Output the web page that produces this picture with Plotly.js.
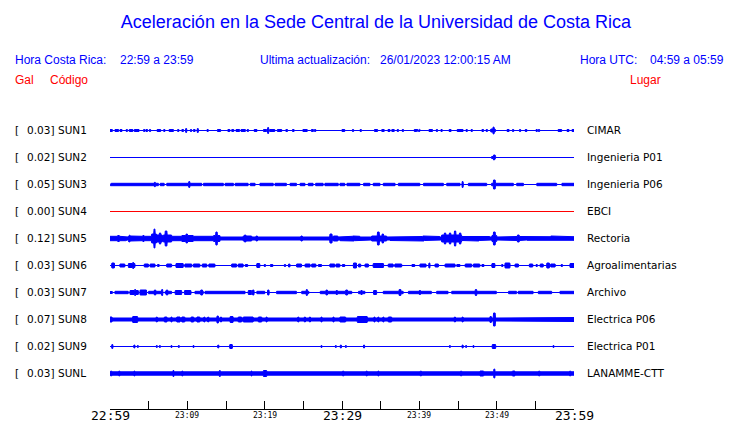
<!DOCTYPE html>
<html><head><meta charset="utf-8">
<script src="https://cdn.plot.ly/plotly-3.0.1.min.js"></script>
<style>html,body{margin:0;padding:0;background:#fff}</style>
</head><body><div id="chart" style="width:740px;height:423px"></div>
<script>
// ---------- DATA ----------
const stationCodes = ['SUN1','SUN2','SUN3','SUN4','SUN5','SUN6','SUN7','SUN8','SUN9','SUNL'];
const peakGal = ['0.03','0.02','0.05','0.00','0.12','0.03','0.03','0.07','0.02','0.03'];
const places = ['CIMAR','Ingenieria P01','Ingenieria P06','EBCI','Rectoria','Agroalimentarias','Archivo','Electrica P06','Electrica P01','LANAMME-CTT'];
// background noise half-amplitude of each record (trace units)
const baseAmp = [0, 0, 0, 0, 1.5, 0, 0, 1.5, 0, 1.7];
const tickMinutes = [0,5,10,15,20,25,30,35,40,45,50,55,60];
const tickLabels = ['22:59','','23:09','','23:19','','23:29','','23:39','','23:49','','23:59'];
const majorTicks = ['22:59','23:29','23:59'];
// bursts per record: [minute after 22:59, duration (min), half-amplitude]
const sun1Events = [[0.13,0.4,1],[0.87,0.5,1],[1.42,0.3,1],[2.16,0.2,1],[2.72,0.5,1],[3.45,0.6,1],[4.44,0.2,1],[4.75,0.2,1],[5.17,0.2,1],[6.34,0.5,1],[7.02,0.2,1],[7.93,0.6,1],[8.83,0.2,1],[9.4,0.2,1],[9.83,0.15,2],[10.47,0.2,1],[10.9,0.2,1],[11.34,0.15,2],[12.63,0.2,1],[14.0,0.2,1],[14.22,0.2,1],[15.39,0.3,1],[15.87,0.3,1],[16.51,0.5,1],[17.24,0.6,1],[17.81,0.2,1],[18.84,0.4,1],[19.95,0.2,1],[20.17,0.2,1],[20.47,0.15,3],[20.99,0.7,1],[21.94,0.6,1],[22.85,0.2,1],[23.7,0.2,1],[25.22,0.6,1],[26.16,0.3,1],[26.51,0.2,1],[28.23,0.15,0.7],[30.17,0.4,1],[31.42,0.2,1],[32.42,0.2,1],[34.4,0.4,1],[35.3,0.3,1],[36.08,0.3,1],[36.6,0.3,1],[37.24,0.2,1],[37.89,0.2,1],[39.57,0.5,1],[39.96,0.2,1],[41.38,0.3,1],[41.6,0.2,1],[42.29,0.2,1],[42.89,0.2,1],[43.97,0.3,1],[45.26,0.8,1],[46.13,0.2,1],[46.77,0.2,1],[48.2,0.2,1],[48.71,0.2,1],[49.53,0.6,1.5],[49.6,0.15,3.5],[51.47,0.3,1],[52.11,0.2,1],[53.02,0.2,1],[53.8,0.2,1],[55.18,0.2,1],[55.48,0.2,1],[58.19,0.5,1],[59.23,0.3,1],[59.87,0.3,1]];
const sun2Events = [[2.72,0.15,0.7],[49.6,0.5,1],[49.7,0.2,2.5]];
const sun3Events = [[3.13,6.25,1.2],[5.82,0.15,2.2],[6.75,0.56,1.2],[9.59,4.53,1.2],[10.26,0.15,3],[13.36,2.59,1.2],[15.41,1.08,1.2],[17.03,1.72,1.2],[18.43,0.65,1.2],[20.26,1.72,1.2],[22.09,1.5,1.2],[23.71,0.86,1.2],[24.89,0.65,1.2],[25.97,0.65,1.2],[27.09,1.0,1.2],[28.66,1.72,1.2],[30.06,0.65,1.2],[31.47,1.72,1.2],[33.19,0.86,1.2],[34.48,0.86,1.2],[36.1,1.5,1.2],[38.69,2.8,1.2],[41.81,2.59,1.2],[44.4,1.72,1.2],[45.6,0.15,3],[47.52,2.37,1.2],[49.7,0.2,4.5],[50.75,2.8,1.2],[53.02,0.86,1.2],[56.47,2.59,1.2],[59.27,1.72,1.2]];
const sun4Events = [];
const sun5Events = [[1.08,2.16,2.2],[1.1,0.2,3],[2.91,1.08,2.5],[2.5,0.15,3.5],[4.42,1.94,2.2],[4.31,0.2,3],[4.96,0.2,2.5],[5.71,0.65,4.5],[5.73,0.15,9.5],[6.4,0.73,3.5],[6.47,0.2,5.5],[7.44,1.08,3.5],[7.24,0.25,7.5],[8.62,1.3,2.2],[10.02,1.5,3],[9.91,0.2,4.5],[12.18,2.8,2.2],[13.79,0.86,3],[13.79,0.2,6.5],[15.2,0.3,2.2],[16.16,0.3,2.2],[17.78,1.08,2.5],[17.46,0.2,3.5],[18.97,0.2,2.5],[20.37,1.0,2.2],[23.06,0.86,2.2],[24.78,0.2,2.5],[26.51,2.6,2.2],[28.58,0.3,4.5],[29.18,0.6,2.5],[31.03,2.6,2.2],[31.47,0.2,2.5],[34.81,1.94,2.5],[34.7,0.2,6.5],[35.26,0.2,4.5],[39.44,6.5,2],[40.52,0.2,2.5],[44.18,2.6,3.5],[43.32,0.2,5.5],[43.97,0.2,5.5],[44.61,0.2,7.5],[45.26,0.2,5.5],[47.3,3.66,2],[47.63,0.2,2.5],[49.68,0.65,3],[49.7,0.2,6.5],[51.72,2.6,2],[52.8,0.2,3.5],[57.0,6.2,1.8],[57.1,0.2,2.5]];
const sun6Events = [[0.39,0.34,2.5],[1.62,0.65,1.5],[2.8,0.86,2],[3.02,0.15,3],[4.7,0.52,1.5],[5.5,0.65,1.5],[6.25,0.2,1],[7.65,0.65,1.5],[9.01,0.95,2],[8.84,0.2,2.5],[10.13,0.86,1.5],[11.2,0.86,1.5],[12.22,0.56,1.5],[13.19,0.78,1.5],[16.06,0.65,1.5],[16.92,0.65,1.5],[17.63,0.34,1],[19.18,0.43,2],[20.04,0.2,1],[20.9,0.3,1],[22.63,0.2,1],[23.19,0.2,1.5],[24.46,0.65,1.5],[25.54,0.65,1.5],[26.34,0.52,1.5],[27.16,0.43,1],[28.77,0.65,1.5],[29.48,0.52,1.5],[30.2,0.34,1],[31.68,0.43,2.5],[32.26,0.3,1.5],[33.19,0.43,1.5],[34.7,1.3,2],[34.75,0.2,2.5],[36.31,0.65,1.5],[37.28,0.86,1.5],[39.22,0.43,1],[40.47,0.78,1.5],[41.29,0.15,2.5],[42.24,0.43,1.5],[43.97,1.3,1.5],[45.04,0.43,1],[46.34,0.86,1.5],[47.41,0.86,1.5],[48.21,0.3,1],[49.57,0.43,2],[50.73,0.2,1],[51.4,0.65,2.5],[52.59,0.43,1.5],[54.44,0.43,1.5],[55.17,0.2,1],[55.82,0.43,1.5],[56.64,0.34,2.5],[57.28,0.56,1.5],[58.41,0.2,1],[59.81,0.65,2]];
const sun7Events = [[0.15,0.3,1],[1.51,1.72,1.2],[3.13,1.08,2],[3.23,0.15,3],[4.31,0.86,2.5],[4.09,0.15,3],[5.82,1.72,1.2],[5.82,0.2,2.5],[6.77,0.15,3],[7.54,0.86,1.2],[7.37,0.2,2.5],[8.84,0.86,2],[10.04,0.86,2],[11.53,1.08,1.2],[11.85,0.2,2.5],[14.87,5.17,1.2],[18.1,0.43,2],[18.53,0.2,2.5],[19.5,1.08,1.2],[20.47,0.2,2.5],[22.84,2.59,1.2],[25.26,0.95,1.2],[25.43,0.15,3],[28.77,3.23,1.2],[28.02,0.2,2.5],[29.31,0.2,2],[30.5,1.5,1.2],[30.6,0.2,2.5],[32.54,0.86,1.2],[32.54,0.2,2],[34.27,0.43,2],[34.27,0.15,2.5],[36.64,2.59,1.2],[37.5,0.2,3],[40.09,3.0,1.2],[40.09,0.2,2],[42.99,1.5,1.2],[47.09,5.8,1.2],[47.33,0.2,3],[52.05,1.08,1.2],[53.77,1.94,1.2],[56.25,1.72,1.2],[59.16,1.94,1.2]];
const sun8Events = [[0.11,0.3,2.5],[1.94,0.15,2],[3.23,0.65,3],[6.03,0.15,2.5],[7.2,0.3,2.5],[7.97,0.15,2.5],[8.84,0.43,2.5],[9.48,0.43,2.5],[10.65,0.3,2.5],[11.42,0.43,2.5],[12.2,0.15,2.5],[12.72,0.15,2.5],[13.15,0.15,2],[13.92,0.2,3.5],[14.35,0.15,2.5],[15.73,0.43,3],[16.81,0.43,2.5],[17.89,1.3,2.5],[19.4,0.43,2.5],[20.26,0.15,2.5],[21.98,0.15,2],[23.49,0.15,2],[24.35,0.15,2.5],[25.22,0.15,2.5],[25.86,0.15,2.5],[26.51,0.15,2],[27.37,0.15,2.5],[28.02,0.15,2],[28.88,0.15,2.5],[29.96,0.43,2.5],[30.17,0.6,2.5],[32.63,1.3,3],[34.18,0.15,2.5],[34.7,0.15,2.5],[35.34,0.15,2.5],[36.21,0.43,2.5],[40.09,0.15,2],[41.81,0.15,2],[42.67,0.15,2],[43.97,0.15,2],[44.61,0.15,2.5],[45.6,0.15,2.5],[49.22,0.2,3],[49.7,0.2,6.5],[55.06,10.1,2]];
const sun9Events = [[0.3,0.15,2],[3.15,0.15,1.5],[3.58,0.15,1],[6.03,0.15,1],[6.47,0.15,1],[7.97,0.15,1],[8.92,0.15,1],[10.78,0.15,1],[14.01,0.15,1.5],[15.65,0.3,2],[27.37,0.15,1],[29.22,0.15,1],[29.87,0.15,1.5],[30.52,0.15,1],[32.84,0.15,1.5],[43.97,0.15,1],[45.6,0.15,1.5],[46.03,0.15,1],[46.98,0.15,1],[49.66,0.43,2],[57.33,0.15,1]];
const sunLEvents = [[0.13,0.15,2.5],[1.21,0.15,2.5],[2.24,0.3,2],[3.15,0.15,2.5],[3.88,0.15,2],[8.19,0.15,3],[9.35,0.15,2.5],[14.22,0.15,3],[18.32,0.15,2.5],[20.04,0.43,3],[25.78,0.15,2],[28.66,0.15,2],[30.17,0.15,2.5],[33.19,0.15,2.5],[34.7,0.15,2.5],[36.12,0.15,2],[36.98,0.15,2],[40.22,0.15,2.5],[42.46,0.15,2],[45.39,0.15,2.5],[48.06,0.5,2.5],[49.7,0.15,4.5],[52.2,0.3,2.5],[55.09,0.15,2],[55.52,0.15,2.5],[59.48,0.15,2.5]];

const allEvents = [sun1Events,sun2Events,sun3Events,sun4Events,sun5Events,sun6Events,sun7Events,sun8Events,sun9Events,sunLEvents];

// ---------- LAYOUT HELPERS (pixel geometry of the figure) ----------
const W = 740, H = 423;
const PL = 110, PR = 574, PT = 118, PB = 409;
const ROW0 = 130.5, ROWSTEP = 27;
const BLUE = '#0000ff', RED = '#ff0000';
function rowY(i){ return ROW0 + ROWSTEP*i; }
function px2x(px){ return (px-PL)/(PR-PL); }
function py2y(py){ return (PB-py)/(PB-PT); }

const STEP = 0.05;
function envelope(base, events){
  const n = Math.round(60/STEP)+1, xs=[], amps=[];
  for(let i=0;i<n;i++){
    const t = i*STEP; let a = base;
    for(const ev of events){
      if(Math.abs(t-ev[0]) <= Math.max(ev[1],0.15)/2 + 1e-9) a = Math.max(a, ev[2]);
    }
    xs.push(t); amps.push(a);
  }
  return {xs, amps};
}

const traces = [];
stationCodes.forEach((code,i)=>{
  const c = rowY(i);
  const env = envelope(baseAmp[i], allEvents[i]);
  const x = env.xs.concat(env.xs.slice().reverse());
  const up = env.amps.map(a=>c-a);
  const lo = env.amps.map(a=>c+a).reverse();
  const col = code==='SUN4' ? RED : BLUE;
  traces.push({x, y: up.concat(lo), type:'scatter', mode:'lines', fill:'toself',
    fillcolor: col, line:{color: col, width:1}, hoverinfo:'skip', showlegend:false, name: code});
});

const annotations = [];
function ann(text, px, py, anchor, font){
  annotations.push({xref:'paper', yref:'paper', x:px2x(px), y:py2y(py), xanchor:anchor, yanchor:'middle',
    text, showarrow:false, borderpad:0, font});
}
const hdr = {family:'Liberation Sans, Arial, sans-serif', size:12, color:BLUE};
const hdrRed = {family:'Liberation Sans, Arial, sans-serif', size:12, color:RED};
ann('Hora Costa Rica:', 14, 60, 'left', hdr);
ann('22:59 a 23:59', 119, 60, 'left', hdr);
ann('Ultima actualización:', 259, 60, 'left', hdr);
ann('26/01/2023 12:00:15 AM', 379, 60, 'left', hdr);
ann('Hora UTC:', 579, 60, 'left', hdr);
ann('04:59 a 05:59', 649, 60, 'left', hdr);
ann('Gal', 14, 80, 'left', hdrRed);
ann('Código', 49, 80, 'left', hdrRed);
ann('Lugar', 629, 80, 'left', hdrRed);

const lab = {family:'DejaVu Sans, sans-serif', size:10.5, color:'#000000'};
stationCodes.forEach((code,i)=>{
  const c = rowY(i) - 1;
  ann('[', 14, c, 'left', lab);
  ann(peakGal[i]+']', 55, c, 'right', lab);
  ann(code, 57, c, 'left', lab);
  ann(places[i], 586, c, 'left', lab);
});
tickMinutes.forEach((m,i)=>{
  if(!tickLabels[i]) return;
  const major = majorTicks.includes(tickLabels[i]);
  annotations.push({xref:'x', yref:'paper', x:m, y:py2y(415.5), xanchor:'center', yanchor:'middle',
    text: tickLabels[i], showarrow:false, borderpad:0,
    font:{family:'DejaVu Sans Mono, monospace', size: major?13:8, color:'#000000'}});
});

const layout = {
  width:W, height:H, paper_bgcolor:'#ffffff', plot_bgcolor:'#ffffff',
  margin:{l:PL, r:W-PR, t:PT, b:H-PB, pad:0},
  title:{text:'Aceleración en la Sede Central de la Universidad de Costa Rica',
    font:{family:'Liberation Sans, Arial, sans-serif', size:18, color:BLUE},
    xref:'container', yref:'container', x:376/W, xanchor:'center', y:1-22/H, yanchor:'middle'},
  xaxis:{range:[0,60], tickvals:tickMinutes, showticklabels:false, ticks:'inside', ticklen:8, tickwidth:1,
    tickcolor:'#000', showline:true, linecolor:'#000', linewidth:1, showgrid:false, zeroline:false, fixedrange:true},
  yaxis:{range:[PB,PT], visible:false, showgrid:false, zeroline:false, fixedrange:true},
  annotations, showlegend:false
};
Plotly.newPlot('chart', traces, layout, {staticPlot:true, displayModeBar:false});
</script></body></html>
